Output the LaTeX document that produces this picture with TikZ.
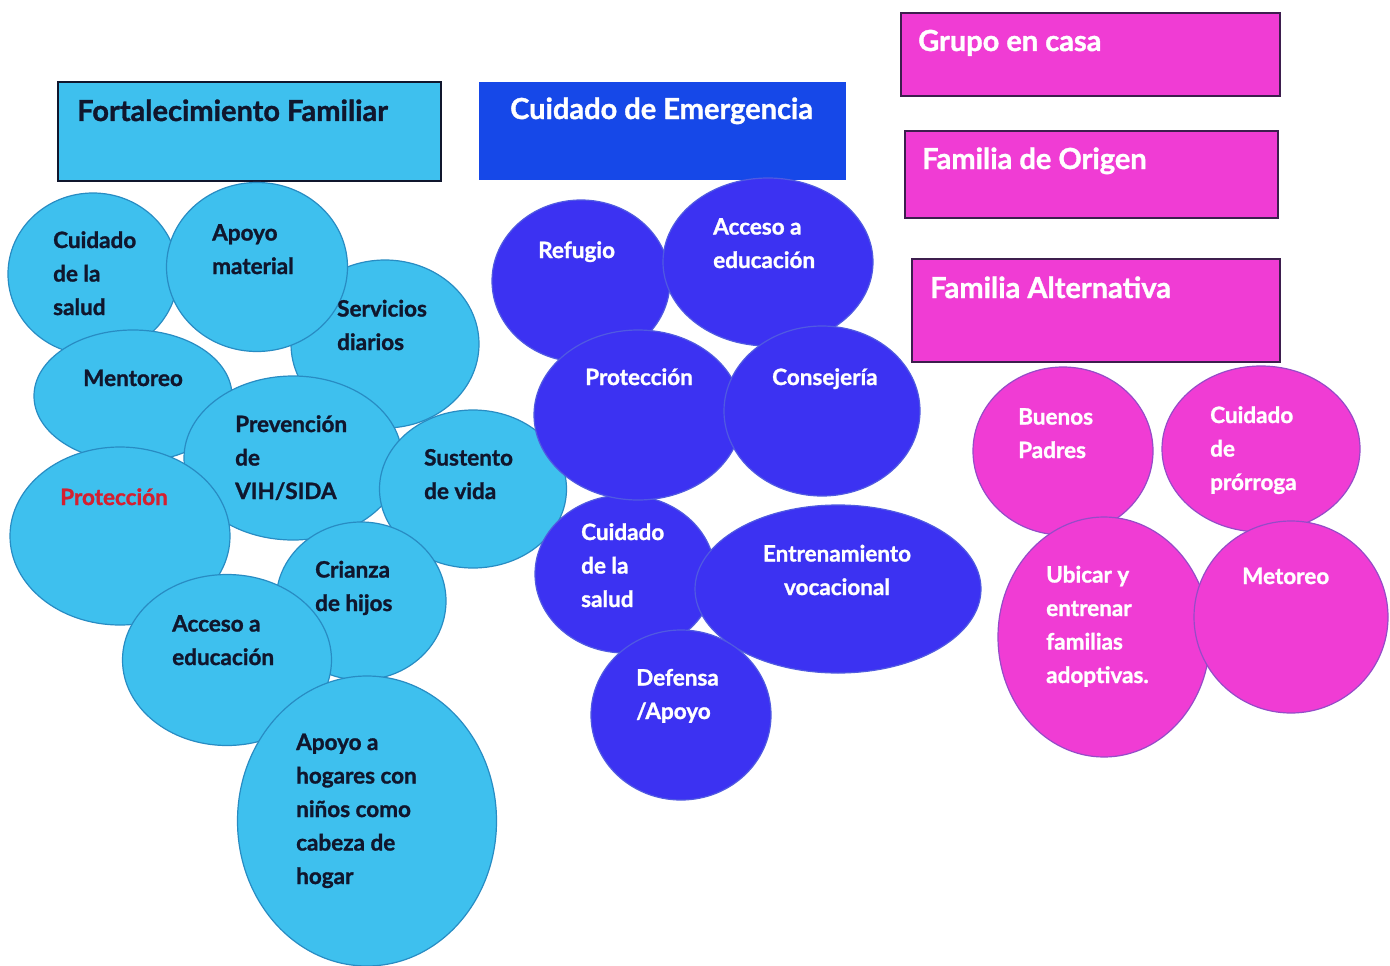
\documentclass[tikz,border=0pt]{standalone}
\usepackage{fontspec}
\setmainfont{Lato}[BoldFeatures={FakeBold=1.2}]
\usetikzlibrary{shapes.geometric}
\definecolor{lblue}{RGB}{62,192,238}
\definecolor{lblueline}{RGB}{40,140,195}
\definecolor{dblue}{RGB}{22,72,232}
\definecolor{vblue}{RGB}{60,50,242}
\definecolor{vblueline}{RGB}{80,90,225}
\definecolor{mag}{RGB}{240,60,212}
\definecolor{magline}{RGB}{150,75,200}
\definecolor{navy}{RGB}{16,22,45}
\definecolor{redtxt}{RGB}{212,32,48}
\begin{document}
\begin{tikzpicture}[x=1pt,y=-1pt,
  ell/.style={ellipse,inner sep=0pt,line width=1.2pt},
  lbell/.style={ell,fill=lblue,draw=lblueline},
  vbell/.style={ell,fill=vblue,draw=vblueline},
  mgell/.style={ell,fill=mag,draw=magline},
  box/.style={rectangle,inner sep=0pt,anchor=north west},
  ttl/.style={anchor=base west,inner sep=0pt,font=\fontsize{29}{34}\selectfont\bfseries},
  lbl/.style={anchor=base west,inner sep=0pt,align=left,font=\fontsize{22.5}{33.5}\selectfont\bfseries},
  dk/.style={text=navy},
  wt/.style={text=white}]
\useasboundingbox (0,0) rectangle (1390,966);
\fill[white] (0,0) rectangle (1390,966);
% title boxes
\node[box,fill=lblue,draw=navy,line width=2pt,minimum width=383pt,minimum height=99pt] (bff) at (57,81) {};
\node[box,fill=dblue,minimum width=367pt,minimum height=98pt] (bce) at (479,82) {};
\node[box,fill=mag,draw=navy!80!mag,line width=2pt,minimum width=379pt,minimum height=83pt] (bgc) at (900,12) {};
\node[box,fill=mag,draw=navy!80!mag,line width=2pt,minimum width=373pt,minimum height=87pt] (bfo) at (904,130) {};
\node[box,fill=mag,draw=navy!80!mag,line width=2pt,minimum width=368pt,minimum height=103pt] (bfa) at (911,258) {};
\node[ttl,dk] (tff) at (77,121) {Fortalecimiento Familiar};
\node[ttl,wt] (tce) at (510,119) {Cuidado de Emergencia};
\node[ttl,wt] (tgc) at (918,51) {Grupo en casa};
\node[ttl,wt] (tfo) at (922,169) {Familia de Origen};
\node[ttl,wt] (tfa) at (930,298) {Familia Alternativa};
% light blue group
\node[lbell,minimum width=170pt,minimum height=162pt] (e1) at (93,274) {};
\node[lbell,minimum width=188pt,minimum height=168pt] (e3) at (385,344) {};
\node[lbell,minimum width=181pt,minimum height=169pt] (e2) at (257,267) {};
\node[lbell,minimum width=198pt,minimum height=132pt] (e4) at (133,396) {};
\node[lbell,minimum width=218pt,minimum height=164pt] (e5) at (293,458) {};
\node[lbell,minimum width=220pt,minimum height=178pt] (e7) at (120,536) {};
\node[lbell,minimum width=187pt,minimum height=158pt] (e6) at (473,489) {};
\node[lbell,minimum width=170pt,minimum height=158pt] (e8) at (361,601) {};
\node[lbell,minimum width=209pt,minimum height=171pt] (e9) at (227,660) {};
\node[lbell,minimum width=259pt,minimum height=290pt] (e10) at (367,821) {};
\node[lbl,dk] (l1) at (53,315) {Cuidado\\de la\\salud};
\node[lbl,dk] (l2) at (212,274) {Apoyo\\material};
\node[lbl,dk] (l3) at (337,350) {Servicios\\diarios};
\node[lbl,dk] (l4) at (83,386) {Mentoreo};
\node[lbl,dk] (l5) at (235,499) {Prevención\\de\\VIH/SIDA};
\node[lbl,dk] (l6) at (424,499) {Sustento\\de vida};
\node[lbl,text=redtxt] (l7) at (60,505) {Protección};
\node[lbl,dk] (l8) at (315,611) {Crianza\\de hijos};
\node[lbl,dk] (l9) at (172,665) {Acceso a\\educación};
\node[lbl,dk] (l10) at (296,884) {Apoyo a\\hogares con\\niños como\\cabeza de\\hogar};
% blue group
\node[vbell,minimum width=178pt,minimum height=162pt] (b1) at (581,281) {};
\node[vbell,minimum width=210pt,minimum height=168pt] (b2) at (768,262) {};
\node[vbell,minimum width=180pt,minimum height=158pt] (b5) at (625,574) {};
\node[vbell,minimum width=208pt,minimum height=170pt] (b3) at (638,415) {};
\node[vbell,minimum width=196pt,minimum height=170pt] (b4) at (822,411) {};
\node[vbell,minimum width=286pt,minimum height=168pt] (b6) at (838,589) {};
\node[vbell,minimum width=180pt,minimum height=170pt] (b7) at (681,715) {};
\node[lbl,wt] (m1) at (538,258) {Refugio};
\node[lbl,wt] (m2) at (713,268) {Acceso a\\educación};
\node[lbl,wt] (m3) at (585,385) {Protección};
\node[lbl,wt] (m4) at (772,385) {Consejería};
\node[lbl,wt] (m5) at (581,607) {Cuidado\\de la\\salud};
\node[lbl,wt,align=center,anchor=base] (m6) at (837,595) {Entrenamiento\\vocacional};
\node[lbl,wt] (m7) at (636,719) {Defensa\\/Apoyo};
% magenta group
\node[mgell,minimum width=180pt,minimum height=168pt] (p1) at (1063,451) {};
\node[mgell,minimum width=198pt,minimum height=166pt] (p2) at (1261,449) {};
\node[mgell,minimum width=212pt,minimum height=240pt] (p3) at (1104,637) {};
\node[mgell,minimum width=194pt,minimum height=192pt] (p4) at (1291,617) {};
\node[lbl,wt] (n1) at (1018,458) {Buenos\\Padres};
\node[lbl,wt] (n2) at (1210,490) {Cuidado\\de\\prórroga};
\node[lbl,wt] (n3) at (1046,683) {Ubicar y\\entrenar\\familias\\adoptivas.};
\node[lbl,wt] (n4) at (1242,584) {Metoreo};
\end{tikzpicture}
\end{document}
